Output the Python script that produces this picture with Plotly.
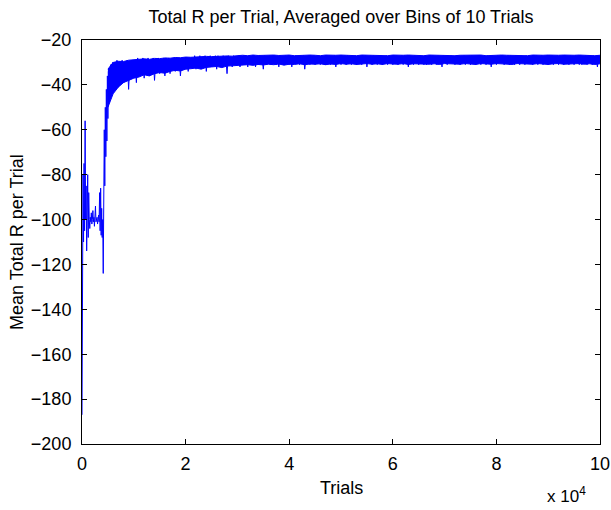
import numpy as np
import plotly.graph_objects as go

# ---- data ----
# early phase, bins every 100 trials (0 .. 6000)
early_step = 100
early_vals = [
    -187, -95, -80, -110, -75, -105, -56, -100, -85, -114,
    -95, -80, -108, -88, -100, -104, -99, -101, -97, -102,
    -100, -96, -101, -99, -103, -100, -94, -101, -100, -99,
    -102, -100, -98, -101, -88, -105, -86, -107, -95, -108,
    -100, -124, -95, -60, -85, -50, -72, -42, -65, -36,
    -55, -34, -48, -33, -44, -31, -42, -32, -44, -30, -40,
]

# later phase, bins every 250 trials (6250 .. 100000)
late_start = 6250
late_step = 250
late_vals = [
    -30, -38, -29, -41, -31, -36, -29, -39, -30, -35, -29, -42, -30, -37, -29, -36, -30, -39, -28, -35,
    -29, -34, -28, -37, -29, -33, -28, -36, -29, -34, -28, -38, -29, -33, -28, -35, -29, -34, -28, -36,
    -28, -33, -28, -35, -29, -32, -28, -34, -28, -32, -28, -36, -29, -32, -28, -33, -28, -34, -28, -32,
    -28, -32, -27, -33, -28, -31, -27, -32, -28, -31, -27, -34, -28, -31, -27, -32, -28, -31, -27, -33,
    -27, -31, -28, -32, -27, -31, -28, -35, -27, -31, -28, -32, -27, -31, -28, -31, -27, -32, -28, -31,
    -27, -31, -28, -32, -27, -30, -28, -31, -27, -32, -28, -31, -27, -30, -28, -33, -27, -31, -28, -30,
    -27, -31, -28, -30, -27, -31, -28, -32, -27, -30, -28, -31, -27, -30, -28, -31, -27, -32, -28, -30,
    -27, -30, -28, -31, -27, -30, -27, -33, -28, -30, -27, -31, -28, -30, -27, -31, -28, -30, -27, -31,
    -27, -30, -28, -31, -27, -30, -27, -31, -28, -30, -27, -32, -28, -30, -27, -31, -28, -30, -27, -31,
    -27, -30, -28, -31, -27, -30, -27, -31, -28, -30, -27, -31, -28, -30, -27, -32, -28, -30, -27, -31,
    -27, -30, -28, -31, -27, -30, -27, -31, -28, -30, -27, -31, -28, -30, -27, -31, -28, -30, -27, -31,
    -28, -30, -27, -31, -27, -30, -28, -32, -27, -30, -28, -31, -27, -30, -28, -31, -27, -30, -28, -31,
    -27, -31, -28, -30, -27, -31, -27, -30, -28, -31, -27, -30, -28, -32, -27, -30, -28, -31, -27, -30,
    -27, -30, -28, -31, -27, -30, -27, -31, -28, -30, -27, -31, -28, -30, -27, -31, -27, -30, -28, -31,
    -28, -30, -27, -31, -27, -30, -28, -31, -27, -30, -28, -32, -27, -30, -28, -31, -27, -30, -28, -30,
    -27, -31, -28, -30, -27, -31, -27, -30, -28, -31, -27, -30, -28, -31, -27, -30, -28, -31, -27, -30,
    -27, -30, -28, -31, -27, -30, -27, -31, -28, -30, -27, -31, -28, -30, -27, -31, -28, -30, -27, -31,
    -28, -30, -27, -31, -27, -30, -28, -31, -27, -30, -28, -31, -27, -30, -28, -31, -27, -30, -28, -31,
    -27, -31, -28, -30, -27, -31, -27, -30, -28, -31, -27, -30, -28, -32, -27, -30,
]

# envelope of the dense noise band, every 1000 trials (5000 .. 100000)
env_start = 5000
env_step = 1000
band_upper = [
    -33.0, -30.0, -29.5, -29.6, -29.0, -28.8, -28.9, -28.4, -28.6, -28.2,
    -28.3, -28.0, -28.1, -27.8, -27.9, -27.6, -27.7, -27.5, -27.6, -27.3,
    -27.4, -27.2, -27.3, -27.1, -27.2, -27.0, -26.8, -27.0, -26.7, -26.9,
    -26.8, -27.0, -26.7, -26.9, -26.8, -26.7, -27.0, -26.8, -26.9, -26.7,
    -26.8, -27.0, -26.7, -26.9, -26.8, -26.7, -26.9, -26.8, -27.0, -26.7,
    -26.8, -26.9, -26.7, -26.8, -27.0, -26.7, -26.9, -26.8, -26.7, -26.9,
    -26.8, -27.0, -26.7, -26.8, -26.9, -26.7, -26.8, -27.0, -26.8, -26.7,
    -26.9, -26.8, -26.7, -27.0, -26.8, -26.9, -26.7, -26.8, -26.9, -26.7,
    -26.8, -27.0, -26.7, -26.9, -26.8, -26.7, -26.9, -26.8, -26.7, -26.9,
    -26.8, -26.7, -26.9, -26.8, -27.0, -26.8,
]
band_lower = [
    -50.0, -44.0, -41.0, -39.0, -38.0, -37.0, -36.5, -35.5, -36.0, -35.0,
    -34.5, -34.8, -34.0, -33.5, -33.8, -33.0, -32.8, -32.5, -33.0, -32.2,
    -32.0, -31.8, -32.3, -31.6, -31.5, -31.4, -31.2, -31.0, -31.3, -30.9,
    -31.1, -30.8, -31.0, -30.7, -31.2, -30.8, -30.9, -30.6, -31.0, -30.7,
    -30.8, -30.6, -31.0, -30.7, -30.9, -30.5, -30.8, -30.6, -30.9, -30.7,
    -30.5, -30.8, -30.6, -30.9, -30.5, -30.7, -30.8, -30.5, -30.9, -30.6,
    -30.7, -30.5, -30.8, -30.6, -30.9, -30.5, -30.7, -30.6, -30.8, -30.5,
    -30.7, -30.9, -30.5, -30.6, -30.8, -30.5, -30.7, -30.6, -30.9, -30.5,
    -30.7, -30.6, -30.8, -30.5, -30.7, -30.9, -30.6, -30.5, -30.8, -30.6,
    -30.7, -30.5, -30.8, -30.6, -30.9, -30.6,
]

x_tickvals = [0, 20000, 40000, 60000, 80000, 100000]
x_ticktext = ["0", "2", "4", "6", "8", "10"]
y_tickvals = [-20, -40, -60, -80, -100, -120, -140, -160, -180, -200]

early_x = np.arange(len(early_vals)) * early_step
late_x = late_start + np.arange(len(late_vals)) * late_step
x = np.concatenate([early_x, late_x])
y = np.array(early_vals + late_vals, dtype=float)
env_x = env_start + np.arange(len(band_upper)) * env_step

FONT = "Liberation Sans, Arial, Helvetica, sans-serif"
BLUE = "rgb(0,0,255)"
FS = 18

fig = go.Figure()
fig.add_trace(go.Scatter(x=env_x, y=band_upper, mode="lines",
                         line=dict(color=BLUE, width=1),
                         hoverinfo="skip", showlegend=False))
fig.add_trace(go.Scatter(x=env_x, y=band_lower, mode="lines",
                         line=dict(color=BLUE, width=1),
                         fill="tonexty", fillcolor=BLUE,
                         hoverinfo="skip", showlegend=False))
fig.add_trace(go.Scatter(x=x, y=y, mode="lines",
                         line=dict(color=BLUE, width=1),
                         hoverinfo="skip", showlegend=False))

axis_common = dict(
    showline=True, linecolor="black", linewidth=1, mirror="allticks",
    ticks="inside", ticklen=5, tickcolor="black", tickwidth=1,
    showgrid=False, zeroline=False, automargin=False,
    tickfont=dict(family=FONT, size=FS, color="black"),
)

fig.update_layout(
    width=611, height=510,
    margin=dict(l=82, r=11, t=40, b=66),
    paper_bgcolor="white", plot_bgcolor="white",
    font=dict(family=FONT, size=FS, color="black"),
    title=dict(text="Total R per Trial, Averaged over Bins of 10 Trials",
               x=341 / 611, xanchor="center", xref="container",
               y=1 - 17 / 510, yanchor="middle", yref="container",
               font=dict(family=FONT, size=FS, color="black")),
    xaxis=dict(range=[0, 100000], tickvals=x_tickvals, ticktext=x_ticktext,
               ticklabelstandoff=3, **axis_common),
    yaxis=dict(range=[-200, -20], tickvals=y_tickvals,
               ticklabelstandoff=6, **axis_common),
    annotations=[
        dict(text="Trials", xref="paper", yref="paper", x=0.5, y=0,
             xanchor="center", yanchor="middle", yshift=-44, showarrow=False,
             font=dict(family=FONT, size=FS, color="black")),
        dict(text="Mean Total R per Trial", xref="paper", yref="paper",
             x=0, y=0.5, xanchor="center", yanchor="middle", xshift=-65,
             textangle=-90, showarrow=False,
             font=dict(family=FONT, size=FS, color="black")),
        dict(text="x 10<sup>4</sup>", xref="paper", yref="paper",
             x=1.0, y=0, xanchor="right", yanchor="middle",
             xshift=-12, yshift=-51, showarrow=False,
             font=dict(family=FONT, size=17, color="black")),
    ],
)

fig.write_html("out.html")
